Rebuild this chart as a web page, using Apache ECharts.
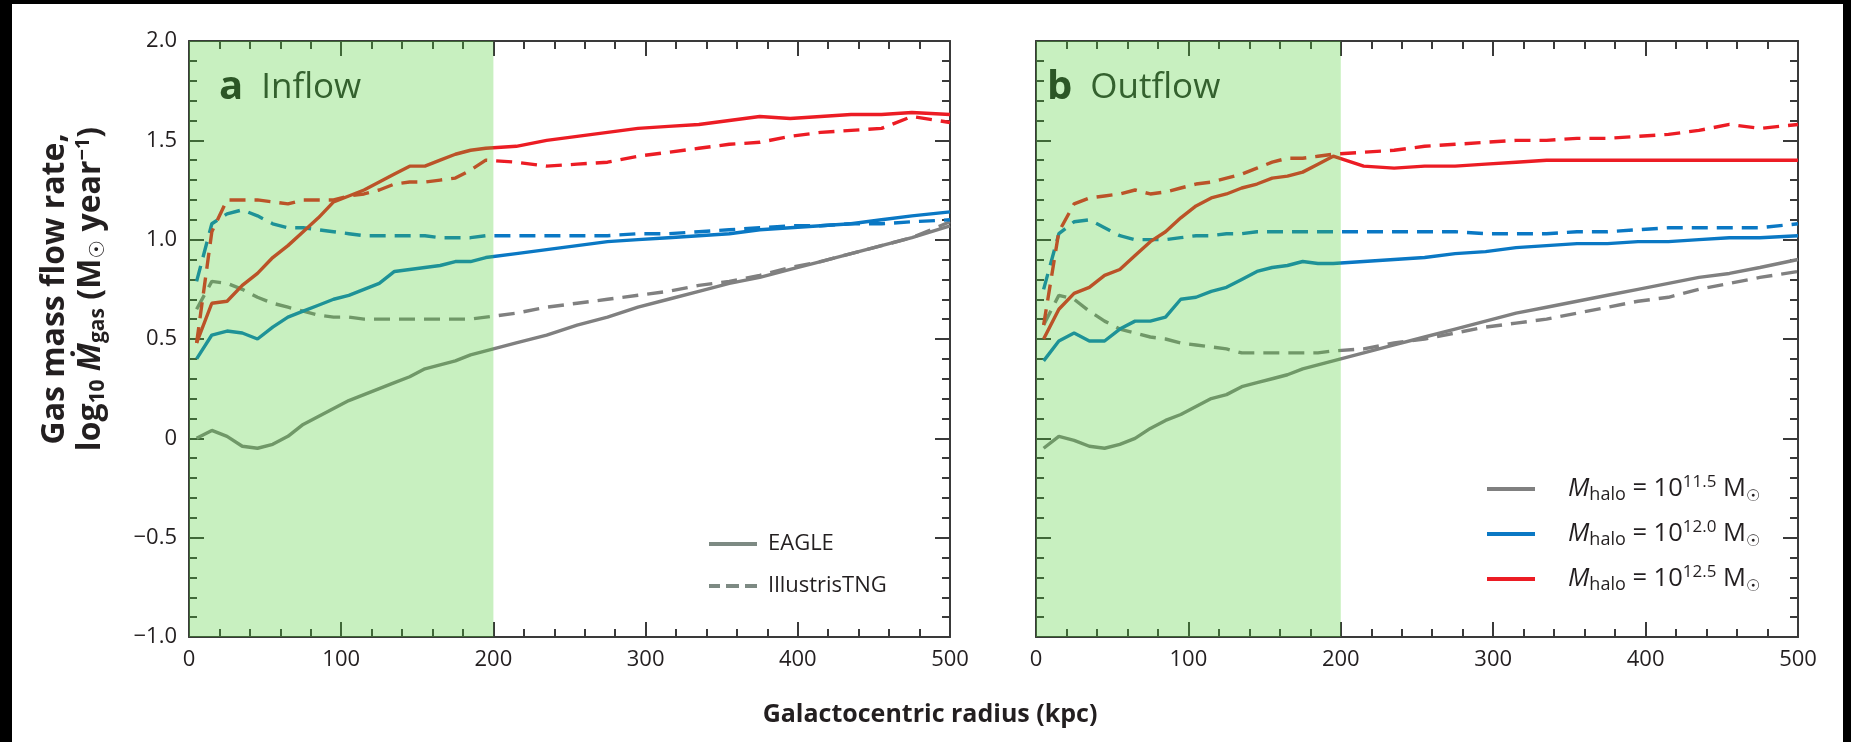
<!DOCTYPE html>
<html><head><meta charset="utf-8">
<script src="https://cdn.jsdelivr.net/npm/echarts@6/dist/echarts.min.js"></script>
<style>
html,body{margin:0;padding:0;background:#000;width:1851px;height:742px;overflow:hidden}
#paper{position:absolute;left:12px;top:4px;width:1831px;height:738px;background:#fff}
#chart{position:absolute;left:0;top:0;width:1851px;height:742px}
</style></head><body><div id="paper"></div><div id="chart"></div>
<script>
// ---- data (log10 gas mass flow rate vs galactocentric radius in kpc) ----
const radius = [5,15,25,35,45,55,65,75,85,95,105,115,125,135,145,155,165,175,185,195,215,235,255,275,295,315,335,355,375,395,415,435,455,475,500];

const inflowEagleLow  = [0.00,0.04,0.01,-0.04,-0.05,-0.03,0.01,0.07,0.11,0.15,0.19,0.22,0.25,0.28,0.31,0.35,0.37,0.39,0.42,0.44,0.48,0.52,0.57,0.61,0.66,0.70,0.74,0.78,0.81,0.85,0.89,0.93,0.97,1.01,1.07];
const inflowTngLow    = [0.65,0.79,0.78,0.75,0.71,0.68,0.66,0.64,0.62,0.61,0.61,0.60,0.60,0.60,0.60,0.60,0.60,0.60,0.60,0.61,0.63,0.66,0.68,0.70,0.72,0.74,0.77,0.79,0.82,0.86,0.89,0.93,0.97,1.01,1.09];
const inflowEagleMid  = [0.40,0.52,0.54,0.53,0.50,0.56,0.61,0.64,0.67,0.70,0.72,0.75,0.78,0.84,0.85,0.86,0.87,0.89,0.89,0.91,0.93,0.95,0.97,0.99,1.00,1.01,1.02,1.03,1.05,1.06,1.07,1.08,1.10,1.12,1.14];
const inflowTngMid    = [0.79,1.08,1.13,1.15,1.12,1.08,1.06,1.06,1.05,1.04,1.03,1.02,1.02,1.02,1.02,1.02,1.01,1.01,1.01,1.02,1.02,1.02,1.02,1.02,1.03,1.03,1.04,1.05,1.06,1.07,1.07,1.08,1.08,1.09,1.10];
const inflowEagleHigh = [0.48,0.68,0.69,0.77,0.83,0.91,0.97,1.04,1.11,1.19,1.22,1.25,1.29,1.33,1.37,1.37,1.40,1.43,1.45,1.46,1.47,1.50,1.52,1.54,1.56,1.57,1.58,1.60,1.62,1.61,1.62,1.63,1.63,1.64,1.63];
const inflowTngHigh   = [0.48,1.04,1.20,1.20,1.20,1.19,1.18,1.20,1.20,1.20,1.22,1.23,1.25,1.28,1.29,1.29,1.30,1.31,1.35,1.40,1.39,1.37,1.38,1.39,1.42,1.44,1.46,1.48,1.49,1.52,1.54,1.55,1.56,1.62,1.59];

const outflowEagleLow  = [-0.05,0.01,-0.01,-0.04,-0.05,-0.03,0.00,0.05,0.09,0.12,0.16,0.20,0.22,0.26,0.28,0.30,0.32,0.35,0.37,0.39,0.43,0.47,0.51,0.55,0.59,0.63,0.66,0.69,0.72,0.75,0.78,0.81,0.83,0.86,0.90];
const outflowTngLow    = [0.57,0.72,0.70,0.64,0.59,0.55,0.53,0.51,0.50,0.48,0.47,0.46,0.45,0.43,0.43,0.43,0.43,0.43,0.43,0.44,0.45,0.48,0.50,0.53,0.56,0.58,0.60,0.63,0.66,0.69,0.71,0.75,0.78,0.81,0.84];
const outflowEagleMid  = [0.39,0.49,0.53,0.49,0.49,0.55,0.59,0.59,0.61,0.70,0.71,0.74,0.76,0.80,0.84,0.86,0.87,0.89,0.88,0.88,0.89,0.90,0.91,0.93,0.94,0.96,0.97,0.98,0.98,0.99,0.99,1.00,1.01,1.01,1.02];
const outflowTngMid    = [0.75,1.03,1.09,1.10,1.06,1.02,1.00,1.00,1.00,1.01,1.02,1.02,1.03,1.03,1.04,1.04,1.04,1.04,1.04,1.04,1.04,1.04,1.04,1.04,1.03,1.03,1.03,1.04,1.04,1.05,1.06,1.06,1.06,1.06,1.08];
const outflowEagleHigh = [0.50,0.65,0.73,0.76,0.82,0.85,0.92,0.99,1.04,1.11,1.17,1.21,1.23,1.26,1.28,1.31,1.32,1.34,1.38,1.42,1.37,1.36,1.37,1.37,1.38,1.39,1.40,1.40,1.40,1.40,1.40,1.40,1.40,1.40,1.40];
const outflowTngHigh   = [0.57,1.04,1.18,1.21,1.22,1.23,1.25,1.23,1.24,1.26,1.28,1.29,1.31,1.33,1.36,1.39,1.41,1.41,1.42,1.43,1.44,1.45,1.47,1.48,1.49,1.50,1.50,1.51,1.51,1.52,1.53,1.55,1.58,1.56,1.58];

const shadeRange = [0, 200];          // kpc, shaded inner region
const xTicks = [0, 500, 100];          // min, max, interval
const yTicks = [-1, 2, 0.5];
const panelTitles = [['a', 'Inflow'], ['b', 'Outflow']];
const simLabels = ['EAGLE', 'IllustrisTNG'];
const haloLabels = ['11.5', '12.0', '12.5'];

// ---- styling ----
const FONT = '"Open Sans", "Noto Sans", "DejaVu Sans", sans-serif';
const TXT = '#231f20';
const AX = '#3a3a3a';
const C_GRAY = '#808080', C_BLUE = '#0a78c4', C_RED = '#ec1c24', C_LEG = '#7d8a83';
const DASH = [16, 9];
const LW = 3.4;
const ICON_SOLID = 'path://M0,0H48V4H0Z';
const ICON_DASH = 'path://M0,0H11V4H0Z M17,0H30V4H17Z M36,0H48V4H36Z';

const grids = [
  {left: 189, top: 41, width: 761, height: 596},
  {left: 1036, top: 41, width: 762, height: 596}
];

function xAx(g, pos, lab) {
  return {type: 'value', gridIndex: g, position: pos, min: xTicks[0], max: xTicks[1], interval: xTicks[2],
    axisLine: {show: true, onZero: false, lineStyle: {color: AX, width: 2}},
    axisTick: {show: true, inside: true, length: 15, lineStyle: {color: AX, width: 2}},
    minorTick: {show: true, splitNumber: 5, length: 8, lineStyle: {color: AX, width: 2}},
    axisLabel: {show: lab, fontFamily: FONT, fontSize: 22, color: TXT, margin: 12},
    splitLine: {show: false}, minorSplitLine: {show: false}};
}
function yAx(g, pos, lab, extra) {
  return Object.assign({type: 'value', gridIndex: g, position: pos, min: yTicks[0], max: yTicks[1], interval: yTicks[2],
    axisLine: {show: true, onZero: false, lineStyle: {color: AX, width: 2}},
    axisTick: {show: true, inside: true, length: 15, lineStyle: {color: AX, width: 2}},
    minorTick: {show: true, splitNumber: 5, length: 8, lineStyle: {color: AX, width: 2}},
    axisLabel: {show: lab, fontFamily: FONT, fontSize: 22, color: TXT, margin: 12,
      formatter: v => v === 0 ? '0' : v.toFixed(1).replace('-', '\u2212')},
    splitLine: {show: false}, minorSplitLine: {show: false}}, extra || {});
}

const yName = '{b|Gas mass flow rate,}\n{b|log}{bs|10}{bi| \u1E40}{bs|gas}{b| (M}{bs|\u2609}{b| year}{bp|\u22121}{b|)}';
const yNameRich = {
  b: {fontFamily: FONT, fontWeight: 'bold', fontSize: 32, lineHeight: 36, color: TXT},
  bi: {fontFamily: FONT, fontWeight: 'bold', fontStyle: 'italic', fontSize: 32, lineHeight: 36, color: TXT},
  bs: {fontFamily: FONT, fontWeight: 'bold', fontSize: 21, lineHeight: 22, verticalAlign: 'bottom', color: TXT},
  bp: {fontFamily: FONT, fontWeight: 'bold', fontSize: 20, lineHeight: 22, verticalAlign: 'top', color: TXT}
};

const xAxes = [xAx(0, 'bottom', true), xAx(0, 'top', false), xAx(1, 'bottom', true), xAx(1, 'top', false)];
const yAxes = [
  yAx(0, 'left', true, {name: yName, nameLocation: 'middle', nameRotate: 90, nameGap: 80,
    nameTextStyle: {rich: yNameRich, padding: [0, 0, 0, 100]}}),
  yAx(0, 'right', false), yAx(1, 'left', false), yAx(1, 'right', false)
];

function line(name, arr, color, dashed, xi, yi) {
  return {type: 'line', name: name, xAxisIndex: xi, yAxisIndex: yi, z: 2,
    data: radius.map((r, i) => [r, arr[i]]), symbol: 'none', silent: true,
    lineStyle: {color: color, width: LW, type: dashed ? DASH : 'solid'}, itemStyle: {color: color}};
}

const series = [
  line('in-low', inflowEagleLow, C_GRAY, false, 0, 0),
  line('in-low-tng', inflowTngLow, C_GRAY, true, 0, 0),
  line('in-mid', inflowEagleMid, C_BLUE, false, 0, 0),
  line('in-mid-tng', inflowTngMid, C_BLUE, true, 0, 0),
  line('in-high', inflowEagleHigh, C_RED, false, 0, 0),
  line('in-high-tng', inflowTngHigh, C_RED, true, 0, 0),
  line('out-low', outflowEagleLow, C_GRAY, false, 2, 2),
  line('out-low-tng', outflowTngLow, C_GRAY, true, 2, 2),
  line('out-mid', outflowEagleMid, C_BLUE, false, 2, 2),
  line('out-mid-tng', outflowTngMid, C_BLUE, true, 2, 2),
  line('out-high', outflowEagleHigh, C_RED, false, 2, 2),
  line('out-high-tng', outflowTngHigh, C_RED, true, 2, 2)
];
// shaded inner-halo region drawn over the lines
[0, 2].forEach(ai => series.push({type: 'line', name: 'shade' + ai, xAxisIndex: ai, yAxisIndex: ai, data: [], z: 10, silent: true,
  markArea: {silent: true, z: 10, itemStyle: {color: 'rgba(77,206,52,0.31)'},
    data: [[{xAxis: shadeRange[0]}, {xAxis: shadeRange[1]}]]}}));
// legend entries
simLabels.forEach(n => series.push({type: 'line', name: n, xAxisIndex: 0, yAxisIndex: 0, data: [], symbol: 'none',
  lineStyle: {color: C_LEG, width: LW}, itemStyle: {color: C_LEG}}));
const haloColors = [C_GRAY, C_BLUE, C_RED];
haloLabels.forEach((h, i) => series.push({type: 'line', name: 'halo' + h, xAxisIndex: 2, yAxisIndex: 2, data: [], symbol: 'none',
  lineStyle: {color: haloColors[i], width: LW}, itemStyle: {color: haloColors[i]}}));

const haloRich = {
  mi: {fontFamily: FONT, fontStyle: 'italic', fontSize: 25.5, lineHeight: 30, color: TXT},
  sb: {fontFamily: FONT, fontSize: 18, lineHeight: 16, verticalAlign: 'bottom', color: TXT},
  tx: {fontFamily: FONT, fontSize: 25.5, lineHeight: 30, color: TXT},
  sp: {fontFamily: FONT, fontSize: 17, lineHeight: 16, verticalAlign: 'top', color: TXT},
  sun: {fontFamily: FONT, fontSize: 16, lineHeight: 16, verticalAlign: 'bottom', color: TXT}
};
const panelRich = {
  b: {fontFamily: FONT, fontWeight: 'bold', fontSize: 40, color: '#2c5626'},
  n: {fontFamily: FONT, fontWeight: 'normal', fontSize: 35, color: '#34612e', padding: [0, 0, 0, 18]}
};

const option = {
  animation: false,
  backgroundColor: 'transparent',
  grid: grids,
  xAxis: xAxes,
  yAxis: yAxes,
  title: [
    {text: '{b|' + panelTitles[0][0] + '}{n|' + panelTitles[0][1] + '}', left: 214, top: 63, z: 20,
      textStyle: {rich: panelRich}},
    {text: '{b|' + panelTitles[1][0] + '}{n|' + panelTitles[1][1] + '}', left: 1042, top: 63, z: 20,
      textStyle: {rich: panelRich}},
    {text: 'Galactocentric radius (kpc)', left: 925, top: 697, textAlign: 'center', z: 20,
      textStyle: {fontFamily: FONT, fontWeight: 'bold', fontSize: 25, color: TXT}}
  ],
  legend: [
    {data: [{name: simLabels[0], icon: ICON_SOLID}, {name: simLabels[1], icon: ICON_DASH}],
      orient: 'vertical', left: 704, top: 524, itemWidth: 48, itemHeight: 4, itemGap: 12,
      selectedMode: false,
      textStyle: {fontFamily: FONT, fontSize: 22, color: TXT, lineHeight: 30, padding: [0, 0, 0, 6]}},
    {data: haloLabels.map(h => ({name: 'halo' + h, icon: ICON_SOLID})),
      orient: 'vertical', left: 1482, top: 469, itemWidth: 48, itemHeight: 4, itemGap: 15,
      selectedMode: false,
      formatter: n => '{mi|M}{sb|halo}{tx| = 10}{sp|' + n.slice(4) + '}{tx| M}{sun|\u2609}',
      textStyle: {fontFamily: FONT, fontSize: 25.5, color: TXT, rich: haloRich, padding: [0, 0, 0, 28]}}
  ],
  series: series
};

const chart = echarts.init(document.getElementById('chart'), null, {renderer: 'canvas'});
chart.setOption(option);
</script>
</body></html>
